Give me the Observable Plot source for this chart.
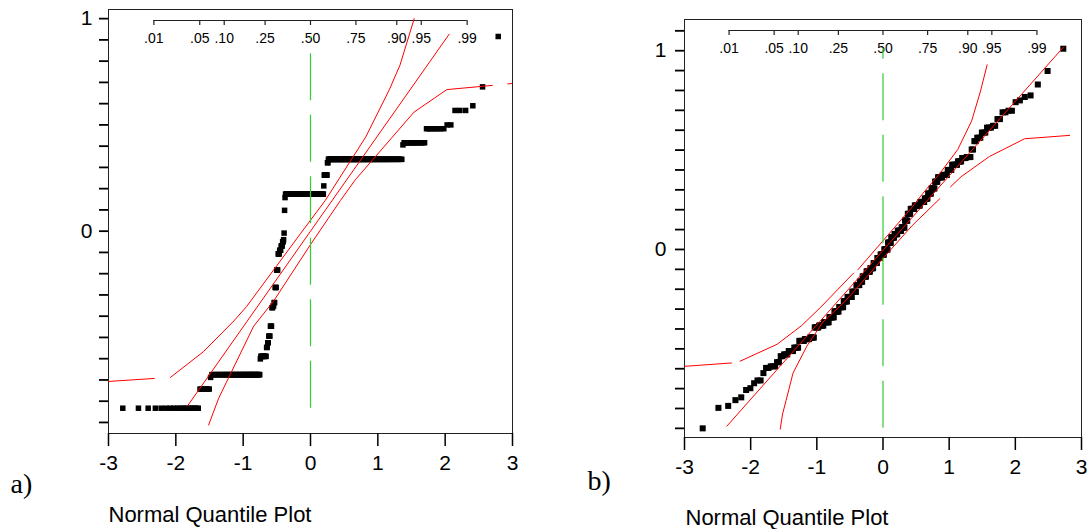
<!DOCTYPE html>
<html>
<head>
<meta charset="utf-8">
<script src="https://cdn.jsdelivr.net/npm/d3@7"></script>
<script src="https://cdn.jsdelivr.net/npm/@observablehq/plot@0.6"></script>
<style>
  html, body { margin: 0; padding: 0; background: #fff; }
  #wrap { position: relative; width: 1089px; height: 529px; overflow: hidden; }
  #pa { position: absolute; left: 0; top: 0; }
  #pb { position: absolute; left: 560px; top: 0; }
</style>
</head>
<body>
<div id="wrap"><div id="pa"></div><div id="pb"></div></div>
<script>
// ---------------- DATA ----------------
// Panel a: sorted sample, as distinct values with their counts
const levelsA = [-0.833, -0.743, -0.688, -0.675, -0.601, -0.589, -0.547, -0.525, -0.494, -0.447,
  -0.36, -0.352, -0.336, -0.265, -0.183, -0.107, -0.09, -0.07, -0.05, -0.04,
  -0.009, 0.098, 0.158, 0.174, 0.213, 0.264, 0.322, 0.338, 0.406, 0.416,
  0.482, 0.50, 0.568, 0.59, 0.679, 0.916];
const countsA = [18, 7, 1, 59, 1, 10, 2, 2, 3, 3,
  2, 2, 2, 3, 3, 3, 3, 3, 2, 1,
  1, 1, 1, 84, 1, 7, 2, 117, 1, 15,
  8, 2, 3, 1, 1, 1];

// Panel b: sorted sample, as values with their counts
const levelsB = [-0.90, -0.797, -0.787, -0.758, -0.744, -0.707, -0.698, -0.673, -0.659, -0.622,
  -0.596, -0.588, -0.567, -0.537, -0.528, -0.511, -0.494, -0.46, -0.451, -0.443,
  -0.392, -0.383, -0.366, -0.341, -0.312, -0.29, -0.261, -0.239, -0.213, -0.179,
  -0.162, -0.136, -0.111, -0.094, -0.068, -0.043, -0.026, 0, 0.034, 0.06,
  0.077, 0.094, 0.111, 0.145, 0.179, 0.204, 0.221, 0.239, 0.256, 0.281,
  0.307, 0.341, 0.363, 0.375, 0.40, 0.426, 0.443, 0.46, 0.465, 0.503,
  0.545, 0.562, 0.588, 0.613, 0.622, 0.656, 0.69, 0.698, 0.741, 0.75,
  0.767, 0.775, 0.83, 0.898, 1.01];
const countsB = [1, 1, 1, 1, 1, 1, 1, 1, 2, 1,
  2, 3, 2, 2, 3, 4, 4, 5, 5, 5,
  5, 6, 7, 7, 7, 7, 6, 8, 7, 6,
  5, 7, 7, 6, 7, 6, 7, 7, 6, 6,
  6, 7, 6, 5, 5, 7, 9, 7, 5, 5,
  5, 4, 6, 6, 5, 6, 4, 4, 4, 2,
  2, 3, 3, 3, 2, 2, 2, 2, 1, 1,
  1, 1, 1, 1, 1];

// Reference (fit) lines and confidence curves, [normal quantile, value]
const refA = [[-1.826, -0.822], [2.06, 0.927]];
const upperA = [
  [[-3.0, -0.707], [-2.32, -0.693]],
  [[-2.08, -0.688], [-1.59, -0.567], [-1.14, -0.423], [-0.95, -0.355], [-0.15, -0.012],
   [0.22, 0.145], [0.82, 0.443], [1.17, 0.665], [1.33, 0.782], [1.54, 1.0]]
];
const lowerA = [
  [[-1.513, -0.912], [-1.364, -0.786], [-0.844, -0.447], [-0.546, -0.328], [0.0, -0.063],
   [0.446, 0.145], [0.666, 0.242], [1.537, 0.56], [2.024, 0.666], [2.70, 0.686]],
  [[2.93, 0.693], [3.0, 0.695]]
];
const refB = [[-2.36, -0.889], [2.73, 1.019]];
const upperB = [
  [[-3.0, -0.588], [-2.29, -0.571]],
  [[-2.16, -0.562], [-1.60, -0.477], [-1.23, -0.383], [-0.94, -0.29], [-0.445, -0.119]],
  [[-0.38, -0.102], [-0.01, 0.04], [0.44, 0.213], [0.60, 0.281], [0.86, 0.383],
   [1.13, 0.503], [1.34, 0.647], [1.47, 0.792], [1.574, 0.929]]
];
const lowerB = [
  [[-1.553, -0.904], [-1.518, -0.828], [-1.465, -0.76], [-1.36, -0.622], [-1.15, -0.486],
   [-0.91, -0.366], [-0.57, -0.26], [0.0, -0.045], [0.44, 0.12], [0.86, 0.256]],
  [[1.02, 0.315], [1.18, 0.366], [1.61, 0.468], [2.14, 0.557], [2.82, 0.574]]
];

// Axis ticks and labels
const xTicks = [-3, -2, -1, 0, 1, 2, 3];
const yTicksA = [-0.9, -0.8, -0.7, -0.6, -0.5, -0.4, -0.3, -0.2, -0.1, 0, 0.1, 0.2, 0.3, 0.4, 0.5, 0.6, 0.7, 0.8, 0.9, 1];
const yTicksB = [-0.9, -0.8, -0.7, -0.6, -0.5, -0.4, -0.3, -0.2, -0.1, 0, 0.1, 0.2, 0.3, 0.4, 0.5, 0.6, 0.7, 0.8, 0.9, 1, 1.1];
const yLabeled = [0, 1];
const probTicks = [0.01, 0.05, 0.10, 0.25, 0.50, 0.75, 0.90, 0.95, 0.99];
const probLabels = [".01", ".05", ".10", ".25", ".50", ".75", ".90", ".95", ".99"];
const caption = "Normal Quantile Plot";

// ---------------- HELPERS ----------------
function qnorm(p) {
  const a = [-3.969683028665376e+01, 2.209460984245205e+02, -2.759285104469687e+02, 1.383577518672690e+02, -3.066479806614716e+01, 2.506628277459239e+00];
  const b = [-5.447609879822406e+01, 1.615858368580409e+02, -1.556989798598866e+02, 6.680131188771972e+01, -1.328068155288572e+01];
  const c = [-7.784894002430293e-03, -3.223964580411365e-01, -2.400758277161838e+00, -2.549732539343734e+00, 4.374664141464968e+00, 2.938163982698783e+00];
  const d = [7.784695709041462e-03, 3.224671290700398e-01, 2.445134137142996e+00, 3.754408661907416e+00];
  const plow = 0.02425, phigh = 1 - plow;
  let q, r;
  if (p < plow) {
    q = Math.sqrt(-2 * Math.log(p));
    return (((((c[0]*q+c[1])*q+c[2])*q+c[3])*q+c[4])*q+c[5]) / ((((d[0]*q+d[1])*q+d[2])*q+d[3])*q+1);
  }
  if (p > phigh) {
    q = Math.sqrt(-2 * Math.log(1 - p));
    return -(((((c[0]*q+c[1])*q+c[2])*q+c[3])*q+c[4])*q+c[5]) / ((((d[0]*q+d[1])*q+d[2])*q+d[3])*q+1);
  }
  q = p - 0.5; r = q * q;
  return (((((a[0]*r+a[1])*r+a[2])*r+a[3])*r+a[4])*r+a[5])*q / (((((b[0]*r+b[1])*r+b[2])*r+b[3])*r+b[4])*r+1);
}
function expand(levels, counts) {
  const out = [];
  levels.forEach((v, i) => { for (let k = 0; k < counts[i]; k++) out.push(v); });
  return out;
}
function quantilePoints(values) {
  const n = values.length;
  return values.map((v, i) => ({x: qnorm((i + 1) / (n + 1)), y: v}));
}
function segRows(groups, name) {
  const rows = [];
  groups.forEach((seg, s) => seg.forEach(([x, y]) => rows.push({x, y, seg: name + s})));
  return rows;
}

function panel(cfg) {
  const values = expand(cfg.levels, cfg.counts);
  const pts = quantilePoints(values);
  const lines = [
    ...segRows([cfg.ref], "ref"),
    ...segRows(cfg.upper, "up"),
    ...segRows(cfg.lower, "lo")
  ];
  const frameH = cfg.height - cfg.marginTop - cfg.marginBottom;
  const probQ = probTicks.map(qnorm);
  return Plot.plot({
    width: cfg.width,
    height: cfg.height,
    marginLeft: cfg.marginLeft,
    marginRight: cfg.marginRight,
    marginTop: cfg.marginTop,
    marginBottom: cfg.marginBottom,
    style: {fontFamily: "'Liberation Sans', Arial, sans-serif", fontSize: "21px", background: "white", overflow: "visible", color: "black"},
    x: {domain: [-3, 3], axis: null},
    y: {domain: cfg.yDomain, axis: null},
    marks: [
      Plot.frame({stroke: "#222", strokeWidth: 1}),
      // bottom axis
      Plot.axisX(xTicks, {anchor: "bottom", label: null, tickSize: 13, tickPadding: 9, fontSize: 21,
        strokeWidth: 1.5, tickFormat: d => String(d)}),
      // left axis
      Plot.axisY(cfg.yTicks, {anchor: "left", label: null, tickSize: 9, tickPadding: cfg.yPad, fontSize: 21,
        strokeWidth: 1.8, tickFormat: d => (yLabeled.includes(d) ? String(d) : "")}),
      // top probability axis (inside frame)
      Plot.ruleY([cfg.yDomain[1]], {x1: probQ[0], x2: probQ[probQ.length - 1], dy: 11, stroke: "#222", strokeWidth: 1.2}),
      Plot.ruleX(probQ, {x: d => d, insetTop: 11, insetBottom: frameH - 16, stroke: "#222", strokeWidth: 1.2}),
      Plot.text(probQ, {x: d => d, frameAnchor: "top", dy: cfg.probDy, lineAnchor: "top",
        text: (d, i) => probLabels[i], fontSize: 14}),
      // points
      Plot.dot(pts, {x: "x", y: "y", symbol: "square", r: cfg.r, fill: "black", stroke: null}),
      // fit line and confidence curves
      Plot.line(lines, {x: "x", y: "y", z: "seg", stroke: "#ff0000", strokeWidth: 1, clip: true}),
      // median dashed line
      Plot.ruleX([qnorm(0.5)], {y1: d3.min(values), y2: d3.max(values), stroke: "#33cc33",
        strokeWidth: 1.2, strokeDasharray: "47,14.5"}),
      // panel letter and caption
      Plot.text([cfg.letter], {text: d => d, frameAnchor: "bottom-left", dx: cfg.letterDx, dy: cfg.letterDy,
        textAnchor: "start", lineAnchor: "bottom", fontFamily: "'Liberation Serif', 'Times New Roman', serif", fontSize: 28}),
      Plot.text([caption], {text: d => d, frameAnchor: "bottom-left", dx: cfg.capDx, dy: cfg.capDy,
        textAnchor: "start", lineAnchor: "bottom", fontSize: 22})
    ]
  });
}

document.getElementById("pa").append(panel({
  levels: levelsA, counts: countsA, ref: refA, upper: upperA, lower: lowerA,
  width: 540, height: 529, marginLeft: 108, marginRight: 28, marginTop: 9, marginBottom: 96,
  yDomain: [-0.952, 1.043], yTicks: yTicksA, yPad: 7, probDy: 24, r: 3.1,
  letter: "a)", letterDx: -98, letterDy: 59, capDx: 0, capDy: 88
}));
document.getElementById("pb").append(panel({
  levels: levelsB, counts: countsB, ref: refB, upper: upperB, lower: lowerB,
  width: 529, height: 529, marginLeft: 124, marginRight: 8, marginTop: 19, marginBottom: 92,
  yDomain: [-0.946, 1.157], yTicks: yTicksB, yPad: 9, probDy: 24, r: 3.4,
  letter: "b)", letterDx: -97, letterDy: 52, capDx: 1, capDy: 87
}));
</script>
</body>
</html>
